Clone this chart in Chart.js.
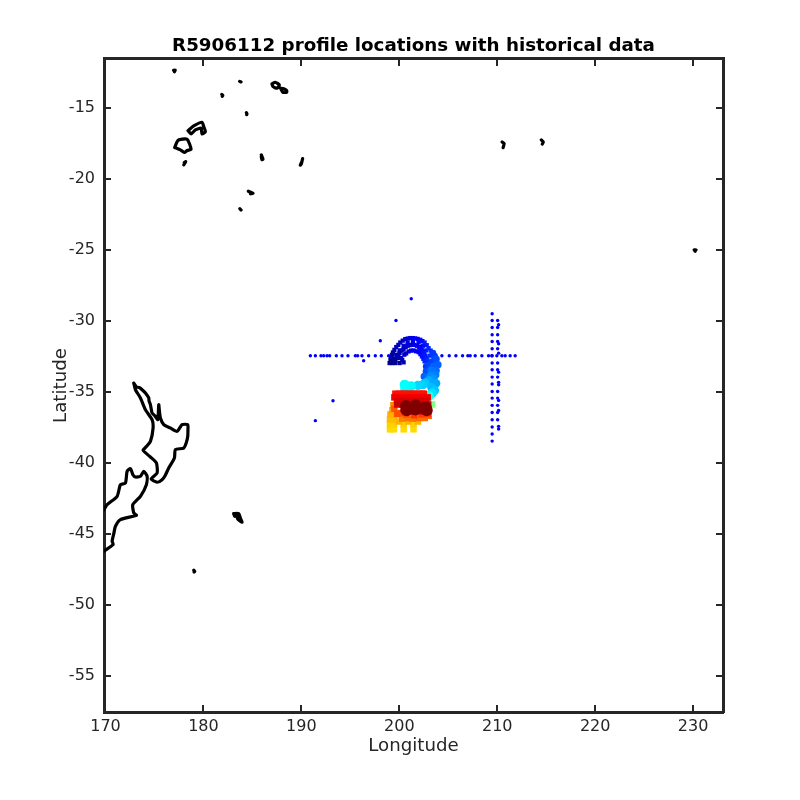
<!DOCTYPE html>
<html><head><meta charset="utf-8">
<style>html,body{margin:0;padding:0;background:#fff}canvas{display:block}</style>
<script src="https://cdn.jsdelivr.net/npm/chart.js@4"></script>
</head><body><canvas id="c" width="800" height="800"></canvas>
<script>
const titleText = "R5906112 profile locations with historical data";
const xTicks = [170,180,190,200,210,220,230];
const yTicks = [-15,-20,-25,-30,-35,-40,-45,-50,-55];

// Coastlines (null separates islands)
const coastLon = [172.89,173.05,173.16,173.45,173.74,174.10,174.42,174.45,174.59,174.76,175.05,175.34,175.44,175.50,175.61,175.95,176.60,177.31,177.82,178.40,178.42,178.40,178.25,177.99,177.14,177.04,176.46,176.10,175.78,175.27,174.66,175.27,175.20,174.59,173.84,174.20,174.59,174.86,174.76,174.08,173.57,173.06,172.89,null,
169.49,169.83,170.17,171.19,171.53,172.04,172.21,172.55,172.80,173.06,173.57,173.91,174.25,174.18,173.57,172.79,172.89,173.16,171.53,171.02,170.85,170.68,170.78,169.83,169.49,null,
183.09,183.60,183.77,183.94,183.50,183.40,183.19,183.09,null,
179.02,179.12,179.05,null,176.95,177.12,177.05,null,183.70,183.84,null,181.88,181.98,181.93,null,
187.00,187.34,187.75,187.51,187.10,187.00,null,187.85,188.20,188.50,188.50,188.10,187.95,null,
184.39,184.45,184.42,null,
178.43,179.01,179.86,180.03,180.20,179.86,179.76,179.18,178.74,178.43,null,
177.07,177.30,177.48,178.33,178.74,178.35,178.06,177.65,177.07,null,
178.00,178.19,178.05,null,185.91,186.08,185.98,185.91,null,190.13,190.05,189.89,190.00,190.13,null,184.59,185.06,184.80,null,183.72,183.84,null,
210.50,210.70,210.60,null,214.50,214.70,214.60,null,230.10,230.30,230.20];
const coastLat = [-34.39,-34.55,-34.67,-34.70,-34.86,-35.10,-35.44,-35.65,-35.91,-36.50,-36.70,-36.97,-35.91,-36.30,-36.85,-37.32,-37.55,-37.79,-37.32,-37.32,-37.70,-38.14,-38.60,-38.97,-39.08,-39.67,-40.37,-40.90,-41.20,-41.38,-41.15,-40.73,-40.02,-39.60,-39.13,-38.85,-38.50,-37.56,-36.97,-36.27,-35.44,-34.86,-34.39,null,
-43.54,-43.31,-42.96,-42.37,-41.55,-41.43,-40.61,-40.42,-40.85,-41.01,-40.96,-40.61,-40.96,-41.55,-42.37,-42.96,-43.54,-43.71,-44.01,-44.48,-45.00,-45.54,-45.77,-46.24,-46.41,null,
-43.59,-43.59,-43.89,-44.20,-43.96,-43.75,-43.78,-43.59,null,
-47.58,-47.66,-47.70,null,-12.35,-12.33,-12.45,null,-13.13,-13.17,null,-14.05,-14.12,-14.18,null,
-13.31,-13.19,-13.38,-13.61,-13.50,-13.31,null,-13.61,-13.65,-13.78,-13.90,-13.90,-13.72,null,
-15.34,-15.42,-15.48,null,
-16.60,-16.27,-16.01,-16.31,-16.67,-16.83,-16.43,-16.55,-16.83,-16.60,null,
-17.79,-17.40,-17.25,-17.21,-17.91,-18.00,-18.14,-17.96,-17.79,null,
-19.01,-18.78,-18.85,null,-18.31,-18.61,-18.65,-18.45,null,-18.57,-18.80,-19.04,-18.95,-18.57,null,-20.87,-21.01,-21.05,null,-22.10,-22.20,null,
-17.40,-17.50,-17.80,null,-17.25,-17.40,-17.55,null,-25.00,-25.00,-25.10];

// Historical profiles
const histLon = [190.92,191.43,192.00,192.28,192.62,192.89,193.57,194.15,194.76,195.51,195.75,196.19,196.87,197.55,198.16,198.91,
204.35,205.10,205.78,206.46,207.00,207.24,207.75,208.43,209.11,209.45,209.96,210.47,210.81,211.32,211.83,
201.22,199.66,198.06,196.36,193.23,191.43,
209.48,209.48,209.48,209.48,209.48,209.48,209.48,209.48,209.48,209.48,209.48,209.48,209.48,209.48,209.48,209.48,209.48,209.48,209.48,
210.04,210.14,210.04,210.04,210.04,210.14,210.04,210.14,210.04,210.04,210.14,210.04,210.14,210.14,210.04,210.04,210.14,210.04,210.14,210.04,210.04,210.14,210.14];
const histLat = [-32.47,-32.47,-32.47,-32.47,-32.47,-32.47,-32.47,-32.47,-32.47,-32.47,-32.47,-32.47,-32.47,-32.47,-32.47,-32.47,
-32.47,-32.47,-32.47,-32.47,-32.47,-32.47,-32.47,-32.47,-32.47,-32.47,-32.47,-32.47,-32.47,-32.47,-32.47,
-28.45,-29.98,-31.41,-32.82,-35.64,-37.04,
-29.51,-29.98,-30.47,-30.99,-31.46,-31.97,-32.47,-32.98,-33.45,-33.97,-34.46,-34.98,-35.45,-35.96,-36.46,-36.97,-37.49,-37.98,-38.48,
-29.98,-30.28,-30.47,-30.99,-31.46,-31.62,-31.97,-32.28,-32.98,-33.45,-33.62,-33.97,-34.34,-34.51,-34.98,-35.45,-35.61,-35.96,-36.32,-36.46,-36.97,-37.44,-37.63];

// Float track: position and its age on the colour scale (0..1)
const trackLon = [
199.10,199.25,199.50,199.90,200.35,200.87,201.37,201.88,202.36,202.80,203.20,203.60,
199.60,199.90,200.25,200.65,201.07,201.55,202.00,202.30,202.55,202.80,203.00,
200.30,200.70,201.20,201.72,202.15,202.45,
200.03,200.44,200.17,200.51,200.95,201.46,201.97,202.31,202.58,202.75,202.75,202.55,
199.28,199.42,199.69,200.03,200.44,200.85,201.39,201.97,202.41,202.75,203.09,203.40,203.50,
199.01,199.59,199.15,199.76,199.35,200.03,199.69,200.44,200.10,200.85,200.61,201.29,201.12,201.80,201.63,202.14,202.14,202.41,202.58,202.65,202.99,202.89,203.43,203.09,203.77,203.16,203.94,
203.50,203.75,203.30,203.70,203.20,203.50,203.00,203.75,202.65,202.40,203.30,203.60,201.90,203.35,201.20,200.60,200.55,203.00,203.35,
199.05,199.45,200.45,201.45,199.05,199.45,200.45,201.45,199.05,199.45,199.10,
200.00,200.90,201.90,199.30,199.70,199.40,200.30,200.80,201.40,202.00,202.60,203.00,199.50,199.80,200.20,200.70,201.50,202.30,202.90,
199.60,199.95,200.27,200.60,200.95,201.30,201.63,201.95,202.31,202.50,199.50,200.10,200.70,201.30,201.90,202.50,202.90,199.76,200.10,200.44,200.80,201.12,201.50,201.97,202.30,202.75,199.80,200.30,200.90,201.60,202.30,202.95,
200.44,201.29,202.31,
200.70,200.75,201.65,201.65,202.70,202.80];
const trackLat = [
-32.75,-32.40,-32.05,-31.70,-31.40,-31.25,-31.22,-31.28,-31.43,-31.72,-32.10,-32.50,
-32.80,-32.45,-32.10,-31.85,-31.72,-31.70,-31.85,-32.05,-32.30,-32.62,-32.95,
-32.75,-32.30,-32.10,-32.15,-32.35,-32.68,
-32.98,-32.93,-32.63,-32.39,-32.16,-32.09,-32.21,-32.51,-32.86,-33.22,-33.57,-33.92,
-32.98,-32.70,-32.39,-32.09,-31.76,-31.53,-31.46,-31.53,-31.76,-32.09,-32.46,-32.86,-33.26,
-32.98,-32.98,-32.56,-32.63,-32.23,-32.28,-31.85,-32.00,-31.53,-31.76,-31.29,-31.69,-31.22,-31.76,-31.24,-31.93,-31.34,-32.16,-31.53,-32.46,-31.93,-32.79,-32.28,-33.10,-32.70,-33.45,-33.10,
-33.20,-33.50,-33.50,-33.80,-33.90,-34.10,-34.20,-34.40,-34.39,-34.50,-34.70,-34.90,-34.55,-35.10,-34.60,-34.80,-34.50,-35.30,-35.90,
-37.65,-37.65,-37.65,-37.65,-37.30,-37.30,-37.30,-37.30,-36.95,-36.95,-36.60,
-37.10,-37.10,-37.10,-36.30,-36.60,-35.95,-36.90,-36.85,-36.90,-36.85,-36.85,-36.70,-36.20,-36.55,-36.50,-36.60,-36.65,-36.60,-36.55,
-35.14,-35.14,-35.14,-35.14,-35.14,-35.14,-35.14,-35.14,-35.14,-35.14,-35.40,-35.40,-35.40,-35.40,-35.40,-35.40,-35.40,-35.65,-35.65,-35.65,-35.65,-35.65,-35.65,-35.65,-35.65,-35.65,-35.90,-35.90,-35.90,-35.90,-35.90,-35.90,
-36.22,-36.38,-36.38,
-36.00,-36.30,-35.95,-36.25,-36.10,-36.30];
const trackAge = [
0.01,0.03,0.04,0.05,0.07,0.08,0.10,0.11,0.13,0.15,0.17,0.19,
0.02,0.04,0.05,0.07,0.08,0.10,0.12,0.13,0.14,0.16,0.17,
0.04,0.07,0.09,0.11,0.13,0.15,
0.03,0.05,0.06,0.07,0.09,0.10,0.12,0.14,0.16,0.18,0.20,0.22,
0.02,0.03,0.05,0.06,0.07,0.09,0.10,0.12,0.13,0.15,0.17,0.19,0.21,
0.01,0.02,0.03,0.04,0.04,0.05,0.06,0.06,0.07,0.08,0.08,0.09,0.10,0.11,0.12,0.12,0.13,0.14,0.15,0.15,0.16,0.17,0.18,0.19,0.20,0.21,0.22,
0.22,0.23,0.24,0.25,0.26,0.27,0.29,0.29,0.32,0.33,0.31,0.32,0.34,0.35,0.37,0.38,0.38,0.40,0.50,
0.66,0.66,0.66,0.66,0.67,0.67,0.67,0.67,0.69,0.69,0.70,
0.70,0.70,0.70,0.72,0.72,0.74,0.75,0.76,0.76,0.77,0.77,0.78,0.79,0.80,0.80,0.80,0.82,0.82,0.82,
0.86,0.86,0.86,0.86,0.86,0.86,0.86,0.86,0.86,0.86,0.89,0.89,0.89,0.89,0.89,0.89,0.89,0.91,0.91,0.91,0.91,0.91,0.91,0.91,0.91,0.91,0.93,0.93,0.93,0.93,0.93,0.93,
0.94,0.94,0.94,
1,1,1,1,1,1];

const ink = "#262626";
function jet(t){
  const c = v => Math.round(255*Math.max(0,Math.min(1,1.5-Math.abs(4*t-v))));
  return `rgb(${c(3)},${c(2)},${c(1)})`;
}
function isSquare(t){ return t<0.18 || (t>=0.45 && t<0.955); }
function markSize(t){
  if(t<0.18) return 3.0;
  if(t<0.45) return 3.4+(t-0.18)*8;
  if(t<0.955) return 4.6;
  return 6;
}
const zip = (xs,ys)=>xs.map((x,i)=>x===null?{x:NaN,y:NaN}:{x:x,y:ys[i]});
const tickFont = {family:"'DejaVu Sans'",size:16};
const axisFont = {family:"'DejaVu Sans'",size:18.2};
const baseGrid = {drawOnChartArea:false,drawTicks:true,tickLength:-7,lineWidth:2,tickColor:ink,color:ink};
const baseBorder = {display:true,color:ink,width:3};

new Chart(document.getElementById('c'),{
  type:'scatter',
  data:{datasets:[
    {label:'track',order:1,data:zip(trackLon,trackLat),
     backgroundColor:trackAge.map(jet),borderWidth:0,
     pointRadius:trackAge.map(markSize),
     pointStyle:trackAge.map(t=>isSquare(t)?'rect':'circle')},
    {label:'historical',order:2,data:zip(histLon,histLat),backgroundColor:'#0000ff',borderWidth:0,pointRadius:1.7},
    {label:'coast',order:3,data:zip(coastLon,coastLat),showLine:true,spanGaps:false,borderColor:'#000',borderWidth:3.2,
     borderCapStyle:'round',borderJoinStyle:'round',pointRadius:0,tension:0.2}
  ]},
  options:{
    responsive:false,animation:false,devicePixelRatio:1,
    layout:{autoPadding:false,padding:{top:35,left:0,right:0,bottom:0}},
    plugins:{
      legend:{display:false},tooltip:{enabled:false},
      title:{display:true,text:titleText,fullSize:false,color:'#000',padding:0,
        font:{family:"'DejaVu Sans'",size:18.3,weight:'bold'}}
    },
    scales:{
      x:{type:'linear',position:'bottom',min:169.85,max:233.05,
        afterBuildTicks:s=>{s.ticks=xTicks.map(v=>({value:v}))},
        afterFit:s=>{s.height=88},
        grid:baseGrid,border:baseBorder,
        ticks:{color:ink,font:tickFont,padding:12,maxRotation:0,autoSkip:false},
        title:{display:true,text:'Longitude',color:ink,font:axisFont,padding:{top:0,bottom:43}}},
      y:{type:'linear',position:'left',min:-57.57,max:-11.55,
        afterBuildTicks:s=>{s.ticks=yTicks.map(v=>({value:v}))},
        afterFit:s=>{s.width=104},
        grid:baseGrid,border:baseBorder,
        ticks:{color:ink,font:tickFont,padding:16,autoSkip:false},
        title:{display:true,text:'Latitude',color:ink,font:axisFont,padding:{top:50,bottom:0}}},
      x2:{type:'linear',position:'top',min:169.85,max:233.05,
        afterBuildTicks:s=>{s.ticks=xTicks.map(v=>({value:v}))},
        afterFit:s=>{s.height=2},
        grid:baseGrid,border:baseBorder,ticks:{display:false}},
      y2:{type:'linear',position:'right',min:-57.57,max:-11.55,
        afterBuildTicks:s=>{s.ticks=yTicks.map(v=>({value:v}))},
        afterFit:s=>{s.width=77},
        grid:baseGrid,border:baseBorder,ticks:{display:false}}
    }
  }
});
</script></body></html>
